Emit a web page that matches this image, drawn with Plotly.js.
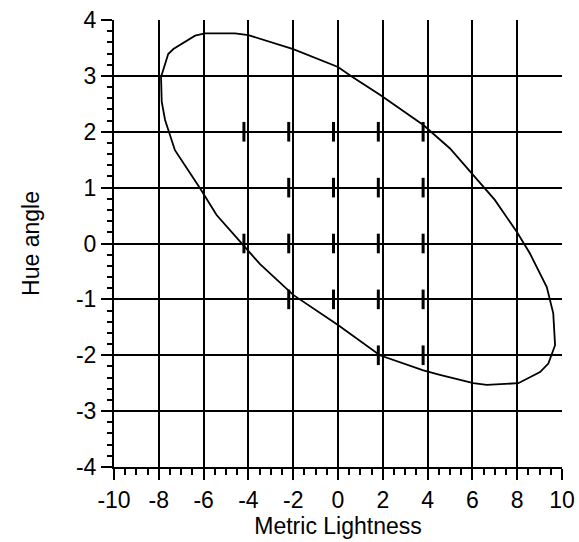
<!DOCTYPE html>
<html>
<head>
<meta charset="utf-8">
<script src="https://cdn.plot.ly/plotly-3.0.1.min.js"></script>
<style>
  html, body { margin: 0; padding: 0; background: #fff; }
  #chart { width: 579px; height: 542px; }
</style>
</head>
<body>
<div id="chart"></div>
<script>
// Tolerance ellipse outline (polyline vertices, Metric Lightness vs Hue angle)
const ellipseX = [-7.90, -7.58, -7.35, -6.38, -5.94, -4.60, -4.00, -2.00, 0.00, 0.61, 1.87,
                  3.81, 5.00, 7.00, 7.98, 8.57, 9.32, 9.61, 9.69, 9.39, 9.02, 8.05, 6.64,
                  6.04, 4.55, 3.81, 1.87, 0.00, -2.00, -3.48, -4.23, -5.42, -6.16, -7.28,
                  -7.72, -7.87, -7.90];
const ellipseY = [2.98, 3.39, 3.48, 3.72, 3.76, 3.76, 3.73, 3.48, 3.16, 2.99, 2.66,
                  2.12, 1.70, 0.78, 0.21, -0.18, -0.78, -1.25, -1.82, -2.15, -2.30, -2.50, -2.53,
                  -2.50, -2.35, -2.27, -2.00, -1.46, -0.92, -0.37, -0.03, 0.51, 0.99, 1.67,
                  2.21, 2.54, 2.98];

// Sample points marked with short vertical bars
const sampleX = [-4.2, -2.2, -0.2, 1.8, 3.8,
                 -2.2, -0.2, 1.8, 3.8,
                 -4.2, -2.2, -0.2, 1.8, 3.8,
                 -2.2, -0.2, 1.8, 3.8,
                 1.8, 3.8];
const sampleY = [2, 2, 2, 2, 2,
                 1, 1, 1, 1,
                 0, 0, 0, 0, 0,
                 -1, -1, -1, -1,
                 -2, -2];

// Axis ticks
const xTickVals = [-10, -8, -6, -4, -2, 0, 2, 4, 6, 8, 10];
const xTickText = ['-10', '-8', '-6', '-4', '-2', '0', '2', '4', '6', '8', '10'];
const yTickVals = [-4, -3, -2, -1, 0, 1, 2, 3, 4];
const yTickText = ['-4', '-3', '-2', '-1', '0', '1', '2', '3', '4'];

const font = { family: 'Liberation Sans, Arial, sans-serif', size: 23, color: '#000' };

const traces = [
  {
    x: ellipseX, y: ellipseY,
    type: 'scatter', mode: 'lines',
    line: { color: '#000', width: 1.8 },
    hoverinfo: 'skip'
  },
  {
    x: sampleX, y: sampleY,
    type: 'scatter', mode: 'markers',
    marker: { symbol: 'line-ns', size: 14, color: '#000', line: { color: '#000', width: 3 } }
  }
];

const axisCommon = {
  showline: true, linecolor: '#000', linewidth: 2,
  showgrid: true, gridcolor: '#000', gridwidth: 2,
  zeroline: false,
  ticks: 'outside', ticklen: 11, tickwidth: 2, tickcolor: '#000',
  tickfont: font,
  fixedrange: true
};

const layout = {
  width: 579, height: 542,
  margin: { l: 114, r: 17, t: 20, b: 75 },
  paper_bgcolor: '#fff', plot_bgcolor: '#fff',
  showlegend: false,
  font: font,
  xaxis: Object.assign({}, axisCommon, {
    range: [-10, 10],
    tickmode: 'array', tickvals: xTickVals, ticktext: xTickText,
    minor: { dtick: 0.5, ticks: 'outside', ticklen: 6, tickwidth: 2, tickcolor: '#000', showgrid: false },
    title: { text: 'Metric Lightness', font: font, standoff: 2 }
  }),
  yaxis: Object.assign({}, axisCommon, {
    range: [-4, 4],
    tickmode: 'array', tickvals: yTickVals, ticktext: yTickText,
    minor: { dtick: 0.2, ticks: 'outside', ticklen: 5, tickwidth: 2, tickcolor: '#000', showgrid: false },
    title: { text: 'Hue angle', font: font, standoff: 30 }
  })
};

Plotly.newPlot('chart', traces, layout, { staticPlot: true, displayModeBar: false });
</script>
</body>
</html>
